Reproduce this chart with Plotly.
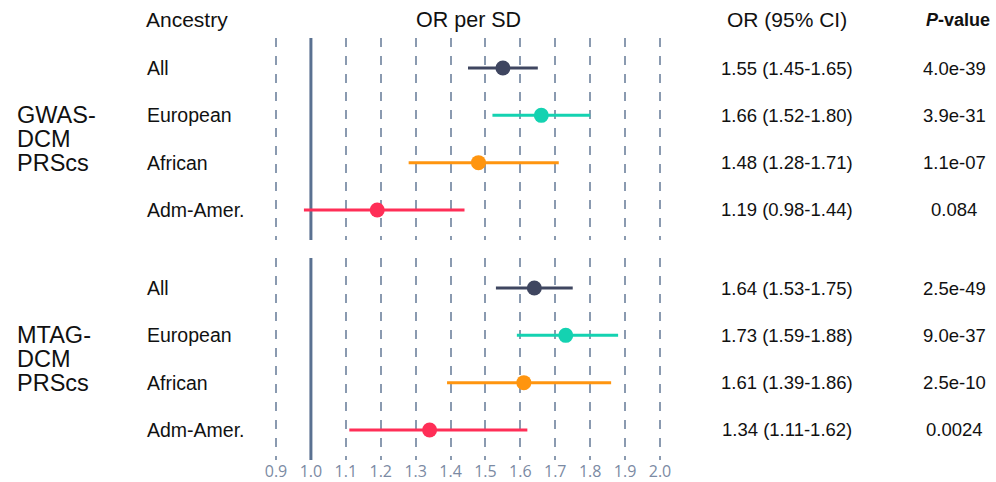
import plotly.graph_objects as go

# ---------------- data ----------------
groups = ["GWAS-DCM PRScs", "MTAG-DCM PRScs"]
group_lines = [["GWAS-", "DCM", "PRScs"], ["MTAG-", "DCM", "PRScs"]]
ancestries = ["All", "European", "African", "Adm-Amer."]
colors = ["#3f4660", "#14d2b1", "#ff950f", "#ff2e57"]

gwas_or = [1.55, 1.66, 1.48, 1.19]
gwas_lo = [1.45, 1.52, 1.28, 0.98]
gwas_hi = [1.65, 1.80, 1.71, 1.44]
gwas_p = ["4.0e-39", "3.9e-31", "1.1e-07", "0.084"]

mtag_or = [1.64, 1.73, 1.61, 1.34]
mtag_lo = [1.53, 1.59, 1.39, 1.11]
mtag_hi = [1.75, 1.88, 1.86, 1.62]
mtag_p = ["2.5e-49", "9.0e-37", "2.5e-10", "0.0024"]

x_ticks = [0.9, 1.0, 1.1, 1.2, 1.3, 1.4, 1.5, 1.6, 1.7, 1.8, 1.9, 2.0]
x_tick_text = ["0.9", "1.0", "1.1", "1.2", "1.3", "1.4", "1.5", "1.6", "1.7", "1.8", "1.9", "2.0"]
null_value = 1.0

headers = ["Ancestry", "OR per SD", "OR (95% CI)", "<b><i>P</i>-value</b>"]
header_sizes = [21, 21.5, 21, 18]

# ---------------- layout geometry ----------------
W, H = 996, 482
ML, MR, MT, MB = 260, 320, 38, 22
PW = W - ML - MR
PH = H - MT - MB


def px_x(px):
    return (px - ML) / PW


def px_y(py):
    return 1 - (py - MT) / PH


TEXT_FONT = "Liberation Sans, Arial, sans-serif"
TEXT_COLOR = "#111111"

top_dom = [(H - MB - 240) / PH, 1.0]
bot_dom = [0.0, (H - MB - 258) / PH]
yrange = [3.635, -0.635]

fig = go.Figure()

datasets = [
    (gwas_or, gwas_lo, gwas_hi, gwas_p, "x", "y"),
    (mtag_or, mtag_lo, mtag_hi, mtag_p, "x2", "y2"),
]

# null reference line at OR = 1 (trace so it sits over the grid but under the marks)
for xa, ya in [("x", "y"), ("x2", "y2")]:
    fig.add_trace(go.Scatter(
        x=[null_value, null_value], y=yrange, xaxis=xa, yaxis=ya, mode="lines",
        line=dict(color="#5a7191", width=3), showlegend=False, hoverinfo="skip",
        cliponaxis=True,
    ))

for gi, (ors, los, his, ps, xa, ya) in enumerate(datasets):
    for i, anc in enumerate(ancestries):
        fig.add_trace(go.Scatter(
            x=[ors[i]], y=[i], xaxis=xa, yaxis=ya, mode="markers",
            marker=dict(color=colors[i], size=15, line=dict(width=0)),
            error_x=dict(type="data", symmetric=False,
                         array=[his[i] - ors[i]], arrayminus=[ors[i] - los[i]],
                         color=colors[i], thickness=3, width=0),
            showlegend=False, hoverinfo="skip",
        ))

xaxis_common = dict(
    range=[0.9 - 16 / 349.1, 2.0 + 16 / 349.1],
    tickvals=x_ticks, ticktext=x_tick_text,
    showgrid=True, gridcolor="#8a9ab0", griddash="dash", gridwidth=1.5,
    zeroline=False, showline=False, ticks="", automargin=False,
    tickfont=dict(family="Open Sans, sans-serif", size=16, color="#7b8aa3"),
    domain=[0, 1],
)

fig.update_layout(
    width=W, height=H,
    margin=dict(l=ML, r=MR, t=MT, b=MB, autoexpand=False),
    plot_bgcolor="white", paper_bgcolor="white",
    xaxis=dict(**xaxis_common, anchor="y", showticklabels=False),
    xaxis2=dict(**xaxis_common, anchor="y2", showticklabels=True),
    yaxis=dict(domain=top_dom, range=yrange, showgrid=False, zeroline=False,
               showticklabels=False, anchor="x", automargin=False),
    yaxis2=dict(domain=bot_dom, range=yrange, showgrid=False, zeroline=False,
                showticklabels=False, anchor="x2", automargin=False),
)

ann = []
# headers
hdr_pos = [(144, "left"), (468, "center"), (787, "center"), (958, "center")]
for txt, (xp, anchor), fs in zip(headers, hdr_pos, header_sizes):
    ann.append(dict(text=txt, x=px_x(xp), y=px_y(20), xref="paper", yref="paper",
                    xanchor=anchor, yanchor="middle", showarrow=False,
                    font=dict(family=TEXT_FONT, size=fs, color=TEXT_COLOR)))

for gi, (ors, los, his, ps, xa, ya) in enumerate(datasets):
    for i, anc in enumerate(ancestries):
        ann.append(dict(text=anc, x=px_x(145), y=i, xref="paper", yref=ya,
                        xanchor="left", yanchor="middle", showarrow=False,
                        font=dict(family=TEXT_FONT, size=19.5, color=TEXT_COLOR)))
        ann.append(dict(text=f"{ors[i]:.2f} ({los[i]:.2f}-{his[i]:.2f})",
                        x=px_x(787), y=i, xref="paper", yref=ya,
                        xanchor="center", yanchor="middle", showarrow=False,
                        font=dict(family=TEXT_FONT, size=18.5, color=TEXT_COLOR)))
        ann.append(dict(text=ps[i], x=px_x(954), y=i, xref="paper", yref=ya,
                        xanchor="center", yanchor="middle", showarrow=False,
                        font=dict(family=TEXT_FONT, size=18.5, color=TEXT_COLOR)))
    for li, line in enumerate(group_lines[gi]):
        ann.append(dict(text=line, x=px_x(15), y=1 + 0.5 * li, xref="paper", yref=ya,
                        xanchor="left", yanchor="middle", showarrow=False,
                        font=dict(family=TEXT_FONT, size=23.5, color=TEXT_COLOR)))

fig.update_layout(annotations=ann)

fig.write_html("out.html")
